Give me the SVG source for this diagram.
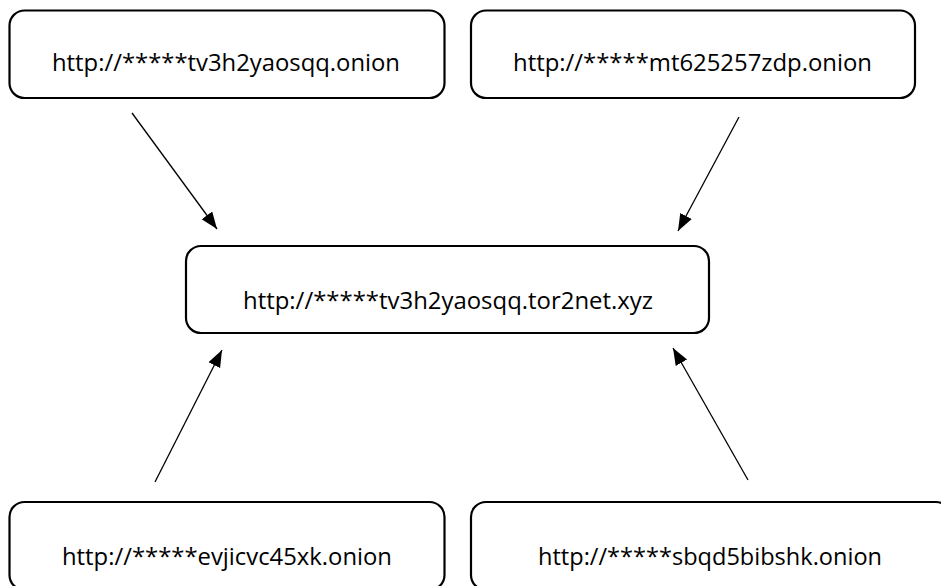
<svg xmlns="http://www.w3.org/2000/svg" width="941" height="586" viewBox="0 0 941 586">
<style>
.box{fill:#fff;stroke:#000;stroke-width:2.2}
.lbl{font-family:"Open Sans","Liberation Sans",sans-serif;font-size:23px;fill:#000}
.conn{stroke:#000;stroke-width:1.3;fill:none}
</style>
<defs>
<marker id="ah" markerUnits="userSpaceOnUse" markerWidth="18" markerHeight="14" refX="17" refY="6.5" orient="auto">
<path d="M0,0 L17,6.5 L0,13 Z" fill="#000"/>
</marker>
</defs>
<rect width="941" height="586" fill="#fff"/>
<g id="connectors">
<line class="conn" x1="132" y1="113" x2="217" y2="229" marker-end="url(#ah)"/>
<line class="conn" x1="739" y1="117" x2="678" y2="231" marker-end="url(#ah)"/>
<line class="conn" x1="155" y1="482" x2="222" y2="350" marker-end="url(#ah)"/>
<line class="conn" x1="748" y1="480" x2="673" y2="348" marker-end="url(#ah)"/>
</g>
<g id="node-tl">
<rect class="box" x="9.5" y="10.5" width="435" height="87.5" rx="15"/>
<text class="lbl" x="52" y="71" textLength="348" lengthAdjust="spacingAndGlyphs">http://*****tv3h2yaosqq.onion</text>
</g>
<g id="node-tr">
<rect class="box" x="471" y="10.5" width="444" height="87.5" rx="15"/>
<text class="lbl" x="513" y="71" textLength="359" lengthAdjust="spacingAndGlyphs">http://*****mt625257zdp.onion</text>
</g>
<g id="node-center">
<rect class="box" x="186" y="246" width="523" height="87" rx="15"/>
<text class="lbl" x="243" y="309" textLength="410" lengthAdjust="spacingAndGlyphs">http://*****tv3h2yaosqq.tor2net.xyz</text>
</g>
<g id="node-bl">
<rect class="box" x="9.5" y="502" width="435" height="88" rx="15"/>
<text class="lbl" x="62" y="565" textLength="330" lengthAdjust="spacingAndGlyphs">http://*****evjicvc45xk.onion</text>
</g>
<g id="node-br">
<rect class="box" x="471" y="502" width="480" height="88" rx="15"/>
<text class="lbl" x="538" y="565" textLength="344" lengthAdjust="spacingAndGlyphs">http://*****sbqd5bibshk.onion</text>
</g>
</svg>
